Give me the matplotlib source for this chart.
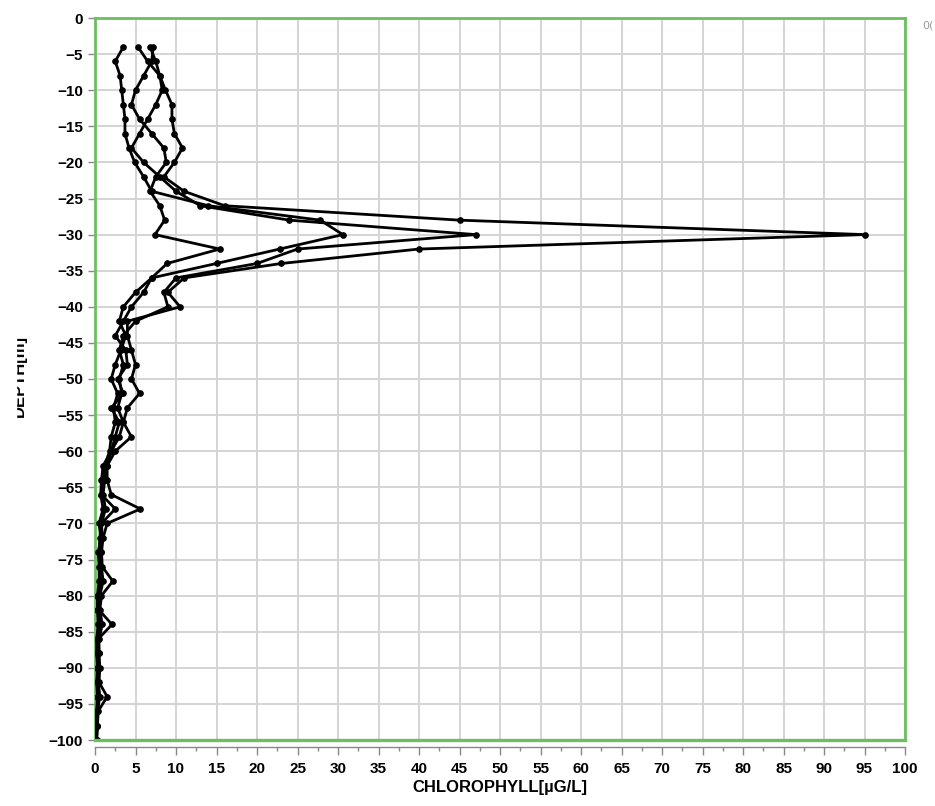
import matplotlib.pyplot as plt
from matplotlib.patches import Rectangle
from matplotlib.ticker import MultipleLocator

# depth of each sample (m)
depth = [-4 - 2 * i for i in range(49)]

# chlorophyll profiles (ug/L), one per cast
cast_a = [6.8, 7.5, 8.0, 8.7, 9.5, 9.5, 9.8, 10.8, 9.8, 8.5, 11.0, 16.0, 45.0, 95.0,
          40.0, 23.0, 11.0, 9.0, 10.5, 4.0, 4.0, 4.5, 5.0, 4.5, 5.5, 4.0, 3.5, 4.5,
          2.5, 1.5, 1.2, 1.0, 1.3, 0.8, 0.9, 0.7, 0.8, 1.0, 0.6, 0.5, 0.7, 0.4,
          0.5, 0.4, 0.4, 0.5, 0.3, 0.3, 0.2]
cast_b = [5.3, 6.5, 8.0, 8.3, 7.5, 6.5, 5.5, 4.5, 6.0, 8.0, 10.0, 13.0, 24.0, 47.0,
          25.0, 20.0, 10.0, 8.5, 9.0, 5.0, 3.5, 3.0, 3.5, 3.0, 3.3, 2.8, 3.5, 3.0,
          2.0, 1.5, 1.5, 2.0, 5.6, 1.5, 1.0, 0.8, 0.9, 2.2, 0.8, 0.6, 0.9, 0.5,
          0.5, 0.6, 0.5, 1.5, 0.4, 0.3, 0.2]
cast_c = [3.5, 2.5, 3.1, 3.3, 3.5, 3.7, 3.7, 4.2, 4.9, 6.0, 7.0, 14.0, 27.8, 30.6,
          22.8, 15.0, 7.0, 5.0, 3.5, 3.0, 3.8, 3.2, 2.5, 2.0, 2.8, 2.3, 2.5, 2.0,
          1.8, 1.2, 1.0, 0.8, 2.5, 0.8, 0.6, 0.5, 0.6, 0.7, 0.4, 0.5, 2.1, 0.4,
          0.3, 0.3, 0.4, 0.6, 0.3, 0.2, 0.1]
cast_d = [7.2, 7.0, 6.0, 5.0, 4.5, 5.5, 7.0, 8.5, 8.8, 7.5, 6.8, 8.0, 8.6, 7.4,
          15.4, 8.9, 7.0, 6.0, 4.5, 3.5, 2.5, 3.8, 4.0, 2.8, 3.5, 2.0, 3.0, 2.5,
          2.0, 1.0, 0.8, 0.7, 1.0, 0.5, 0.7, 0.4, 0.5, 0.5, 0.3, 0.3, 0.4, 0.2,
          0.2, 0.3, 0.2, 0.3, 0.2, 0.1, 0.1]

green = "#6cbf5f"
font = ["Liberation Sans", "DejaVu Sans"]
tick_font = dict(family=font, weight="bold", size=11)

fig = plt.figure(figsize=(9.35, 8.06), dpi=100)
ax = fig.add_axes([95 / 935, 66 / 806, 810 / 935, 722 / 806])

for cast in (cast_a, cast_b, cast_c, cast_d):
    ax.plot(cast, depth, color="black", lw=2.0, marker="o", ms=3.8, zorder=3)

ax.set_xlim(0, 100)
ax.set_ylim(-100, 0)
ax.xaxis.set_major_locator(MultipleLocator(5))
ax.xaxis.set_minor_locator(MultipleLocator(2.5))
ax.yaxis.set_major_locator(MultipleLocator(5))
ax.grid(True, color="#d4d4d4", lw=1.4)
ax.set_axisbelow(True)

for side in ("top", "right", "left"):
    ax.spines[side].set_color(green)
    ax.spines[side].set_linewidth(2)
ax.axhline(-100, color=green, lw=2.4, clip_on=False, zorder=4)
ax.spines["bottom"].set_position(("outward", 5))
ax.spines["bottom"].set_color("#888888")
ax.spines["bottom"].set_linewidth(1)

ax.tick_params(axis="y", colors="#888888", length=5, width=1, labelcolor="black")
ax.tick_params(axis="x", which="major", colors="#888888", length=6, width=1,
               labelcolor="black", pad=5)
ax.tick_params(axis="x", which="minor", colors="#888888", length=3, width=1)
for lab in ax.get_xticklabels() + ax.get_yticklabels():
    lab.set_fontproperties(tick_font)

ax.set_xlabel("CHLOROPHYLL[µG/L]", family=font, weight="bold", size=12, labelpad=3)

fig.text(19 / 935, 0.533, "DEPTH[m]", rotation=90, ha="center", va="center",
         family=font, weight="bold", size=12)
fig.patches.append(Rectangle((0, 0), 16 / 935, 1, transform=fig.transFigure,
                             color="white", zorder=10))
fig.text(922 / 935, 0.965, "0(", color="#999999", size=8)

fig.savefig("out.png", dpi=100)
